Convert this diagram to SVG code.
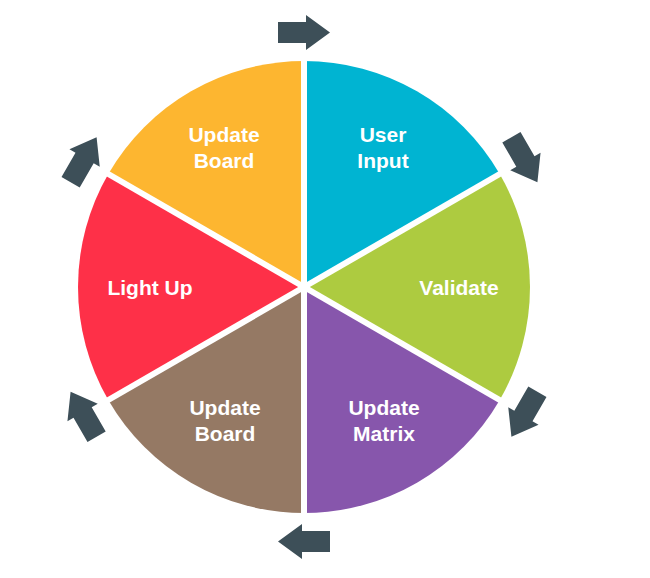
<svg xmlns="http://www.w3.org/2000/svg" width="650" height="578" viewBox="0 0 650 578">
  <style>
    .label { font-family: "Liberation Sans", Arial, sans-serif; font-weight: bold; font-size: 21px; fill: #ffffff; text-anchor: middle; }
    .divider { stroke: #ffffff; stroke-width: 6; stroke-linecap: butt; }
    .flow { fill: #3d4f58; }
  </style>
  <defs>
    <!-- block arrow pointing right, centred on the origin -->
    <path id="arrow" d="M -26 -10.5 L 2 -10.5 L 2 -17.5 L 26 0 L 2 17.5 L 2 10.5 L -26 10.5 Z"/>
  </defs>
  <rect width="650" height="578" fill="#ffffff"/>

  <!-- cycle wedges, centre (304,287), r 226 -->
  <g id="user-input">
    <path d="M 304 287 L 304 61 A 226 226 0 0 1 499.72 174 Z" fill="#00b4d2"/>
    <text class="label" x="383" y="142">User</text>
    <text class="label" x="383" y="168">Input</text>
  </g>
  <g id="validate">
    <path d="M 304 287 L 499.72 174 A 226 226 0 0 1 499.72 400 Z" fill="#adcb40"/>
    <text class="label" x="459" y="295">Validate</text>
  </g>
  <g id="update-matrix">
    <path d="M 304 287 L 499.72 400 A 226 226 0 0 1 304 513 Z" fill="#8756ac"/>
    <text class="label" x="384" y="415">Update</text>
    <text class="label" x="384" y="441">Matrix</text>
  </g>
  <g id="update-board-bottom">
    <path d="M 304 287 L 304 513 A 226 226 0 0 1 108.28 400 Z" fill="#957964"/>
    <text class="label" x="225" y="415">Update</text>
    <text class="label" x="225" y="441">Board</text>
  </g>
  <g id="light-up">
    <path d="M 304 287 L 108.28 400 A 226 226 0 0 1 108.28 174 Z" fill="#fe3048"/>
    <text class="label" x="150" y="295">Light Up</text>
  </g>
  <g id="update-board-top">
    <path d="M 304 287 L 108.28 174 A 226 226 0 0 1 304 61 Z" fill="#fdb630"/>
    <text class="label" x="224" y="142">Update</text>
    <text class="label" x="224" y="168">Board</text>
  </g>

  <!-- white gaps between the wedges -->
  <g id="dividers" class="divider">
    <line x1="304" y1="287" x2="304" y2="58"/>
    <line x1="304" y1="287" x2="502.3" y2="172.5"/>
    <line x1="304" y1="287" x2="502.3" y2="401.5"/>
    <line x1="304" y1="287" x2="304" y2="516"/>
    <line x1="304" y1="287" x2="105.7" y2="401.5"/>
    <line x1="304" y1="287" x2="105.7" y2="172.5"/>
  </g>

  <!-- clockwise flow arrows around the ring -->
  <g id="connectors" class="flow">
    <use href="#arrow" transform="rotate(0 304 287) translate(304 32.5)"/>
    <use href="#arrow" transform="rotate(60 304 287) translate(304 32.5)"/>
    <use href="#arrow" transform="rotate(120 304 287) translate(304 32.5)"/>
    <use href="#arrow" transform="rotate(180 304 287) translate(304 32.5)"/>
    <use href="#arrow" transform="rotate(240 304 287) translate(304 32.5)"/>
    <use href="#arrow" transform="rotate(300 304 287) translate(304 32.5)"/>
  </g>
</svg>
